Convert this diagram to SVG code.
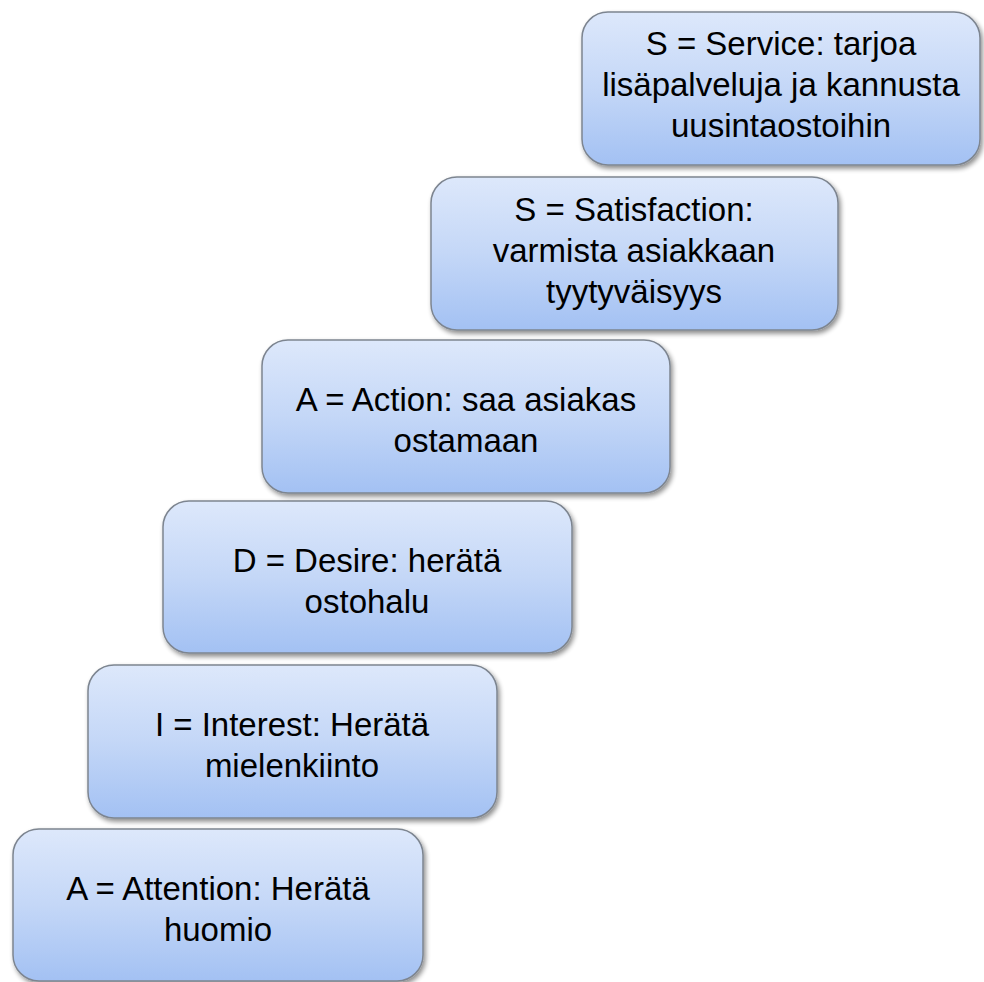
<svg xmlns="http://www.w3.org/2000/svg" width="984" height="982" viewBox="0 0 984 982">
<defs>
<linearGradient id="g" x1="0" y1="0" x2="0" y2="1">
<stop offset="0" stop-color="#dde8fb"/>
<stop offset="0.5" stop-color="#c4d7f7"/>
<stop offset="1" stop-color="#a3c1f3"/>
</linearGradient>
<filter id="sh" x="-10%" y="-10%" width="125%" height="130%">
<feGaussianBlur in="SourceAlpha" stdDeviation="2.5"/>
<feOffset dx="2" dy="3" result="b"/>
<feComponentTransfer><feFuncA type="linear" slope="0.45"/></feComponentTransfer>
<feMerge><feMergeNode/><feMergeNode in="SourceGraphic"/></feMerge>
</filter>
</defs>
<style>
.box{fill:url(#g);stroke:#7d8590;stroke-width:1.5;filter:url(#sh)}
.t{font-family:"Liberation Sans",Arial,sans-serif;font-size:33px;fill:#000;text-anchor:middle}
</style>
<rect width="984" height="982" fill="#fff"/>
<g id="connectors"/>
<g id="attention">
<rect class="box" x="13" y="829" width="410" height="152" rx="26"/>
<text class="t" x="218" y="900">A = Attention: Herätä</text>
<text class="t" x="218" y="941">huomio</text>
</g>
<g id="interest">
<rect class="box" x="88" y="665" width="409" height="153" rx="26"/>
<text class="t" x="292" y="736">I = Interest: Herätä</text>
<text class="t" x="292" y="777">mielenkiinto</text>
</g>
<g id="desire">
<rect class="box" x="163" y="501" width="409" height="152" rx="26"/>
<text class="t" x="367" y="572">D = Desire: herätä</text>
<text class="t" x="367" y="613">ostohalu</text>
</g>
<g id="action">
<rect class="box" x="262" y="340" width="408" height="153" rx="26"/>
<text class="t" x="466" y="411">A = Action: saa asiakas</text>
<text class="t" x="466" y="452">ostamaan</text>
</g>
<g id="satisfaction">
<rect class="box" x="431" y="177" width="407" height="153" rx="26"/>
<text class="t" x="634" y="221">S = Satisfaction:</text>
<text class="t" x="634" y="262">varmista asiakkaan</text>
<text class="t" x="634" y="303">tyytyväisyys</text>
</g>
<g id="service">
<rect class="box" x="582" y="12" width="398" height="153" rx="26"/>
<text class="t" x="781" y="55">S = Service: tarjoa</text>
<text class="t" x="781" y="96">lisäpalveluja ja kannusta</text>
<text class="t" x="781" y="137">uusintaostoihin</text>
</g>
</svg>
